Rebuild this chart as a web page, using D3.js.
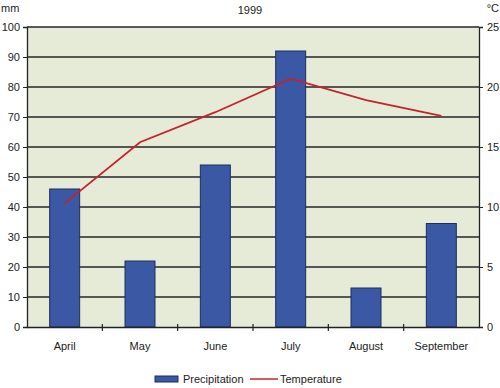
<!DOCTYPE html>
<html lang="en">
<head>
<meta charset="utf-8" />
<title>1999 Precipitation and Temperature</title>
<script src="https://d3js.org/d3.v7.min.js"></script>
<style>
  body { margin: 0; padding: 0; background: #ffffff; font-family: Arial, "Liberation Sans", sans-serif; }
  #chart { width: 500px; height: 388px; }
  .axis text { font-size: 11px; fill: #222; }
  .axis path, .axis line { stroke: #222; }
</style>
</head>
<body>
<div id="chart"></div>
<script>
// data
const months = ["April", "May", "June", "July", "August", "September"];
const precipitation = [46, 22, 54, 92, 13, 34.5];
const temperature = [10.3, 15.4, 17.9, 20.7, 18.9, 17.6];
const mmTicks = [0, 10, 20, 30, 40, 50, 60, 70, 80, 90, 100];
const degTicks = [0, 5, 10, 15, 20, 25];

const margin = { top: 27, right: 21, bottom: 61, left: 27 },
      width  = 500 - margin.left - margin.right,
      height = 388 - margin.top - margin.bottom;

const svg = d3.select("#chart").append("svg")
  .attr("width", 500).attr("height", 388);

const g = svg.append("g")
  .attr("transform", `translate(${margin.left},${margin.top})`);

const band = d3.scaleBand().domain(months).range([0, width]);
const yL = d3.scaleLinear().domain([0, 100]).range([height, 0]);
const yR = d3.scaleLinear().domain([0, 25]).range([height, 0]);

// plot background
g.append("rect")
  .attr("width", width).attr("height", height)
  .attr("fill", "#e5ebd6");

// gridlines
g.selectAll(".grid").data(mmTicks.slice(1))
  .enter().append("line")
  .attr("x1", 0).attr("x2", width)
  .attr("y1", d => yL(d)).attr("y2", d => yL(d))
  .attr("stroke", "#262626").attr("stroke-width", 1.3);

// bars
g.selectAll(".bar").data(months)
  .enter().append("rect")
  .attr("x", d => band(d) + band.bandwidth() / 2 - 15)
  .attr("width", 30)
  .attr("y", (d, i) => yL(precipitation[i]))
  .attr("height", (d, i) => height - yL(precipitation[i]))
  .attr("fill", "#3a58a3")
  .attr("stroke", "#1e2e5c").attr("stroke-width", 1);

// temperature line
const line = d3.line()
  .x((d, i) => band(months[i]) + band.bandwidth() / 2)
  .y(d => yR(d));
g.append("path").datum(temperature)
  .attr("d", line)
  .attr("fill", "none")
  .attr("stroke", "#c8202e").attr("stroke-width", 1.8);

// axes
g.append("g").attr("class", "axis")
  .call(d3.axisLeft(yL).tickValues(mmTicks).tickSize(4).tickPadding(3))
  .call(a => a.select(".domain").attr("stroke-width", 1.3));

g.append("g").attr("class", "axis")
  .attr("transform", `translate(${width},0)`)
  .call(d3.axisRight(yR).tickValues(degTicks).tickSize(4).tickPadding(4))
  .call(a => a.select(".domain").attr("stroke-width", 1.3));

g.append("g").attr("class", "axis")
  .attr("transform", `translate(0,${height})`)
  .call(d3.axisBottom(band).tickSize(0).tickPadding(15).tickSizeOuter(0))
  .call(a => a.select(".domain").attr("stroke-width", 1.3));

// category boundary ticks
g.selectAll(".btick").data(months.slice(1))
  .enter().append("line")
  .attr("x1", d => band(d)).attr("x2", d => band(d))
  .attr("y1", height - 3).attr("y2", height + 4)
  .attr("stroke", "#222").attr("stroke-width", 1.2);

// titles
svg.append("text").attr("x", 250).attr("y", 14)
  .attr("text-anchor", "middle").attr("font-size", 11).attr("fill", "#222").text("1999");
svg.append("text").attr("x", 1).attr("y", 12)
  .attr("font-size", 11).attr("fill", "#222").text("mm");
svg.append("text").attr("x", 499).attr("y", 12)
  .attr("text-anchor", "end").attr("font-size", 11).attr("fill", "#222").text("°C");

// legend
const lg = svg.append("g").attr("transform", "translate(155,379)");
lg.append("rect").attr("x", 0).attr("y", -3).attr("width", 23).attr("height", 6)
  .attr("fill", "#3a58a3").attr("stroke", "#1e2e5c");
lg.append("text").attr("x", 28).attr("y", 4).attr("font-size", 11).attr("fill", "#222").text("Precipitation");
lg.append("line").attr("x1", 95).attr("x2", 123).attr("y1", 0).attr("y2", 0)
  .attr("stroke", "#c8202e").attr("stroke-width", 1.5);
lg.append("text").attr("x", 125).attr("y", 4).attr("font-size", 11).attr("fill", "#222").text("Temperature");
</script>
</body>
</html>
